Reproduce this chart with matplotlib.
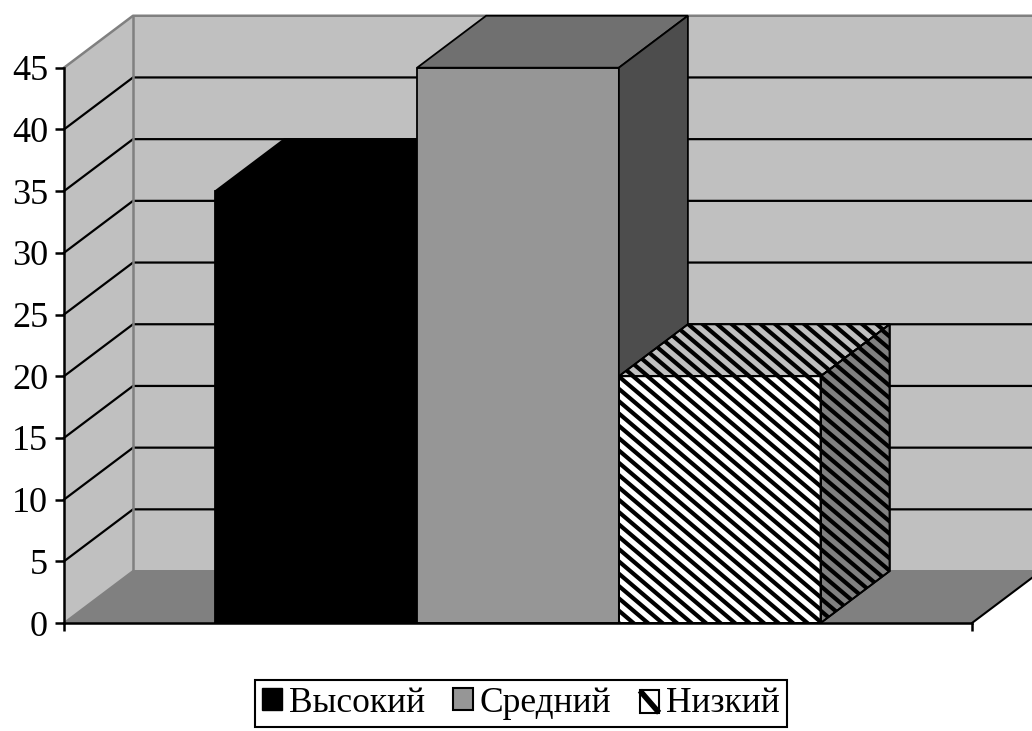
import numpy as np
import matplotlib.pyplot as plt
from matplotlib.patches import Polygon, Patch, Rectangle
from matplotlib.collections import LineCollection
from matplotlib.lines import Line2D
from matplotlib.legend_handler import HandlerBase
from matplotlib.transforms import IdentityTransform

plt.rcParams['font.family'] = ['Liberation Serif', 'DejaVu Serif']

labels = ['Высокий', 'Средний', 'Низкий']
values = [35, 45, 20]
yticks = list(range(0, 50, 5))

# face colours: front, top, side
front_colors = ['black', '#969696', 'white']
top_colors = ['black', '#707070', '#c0c0c0']
side_colors = ['black', '#4d4d4d', '#808080']
hatched = [False, False, True]

W, H, DPI = 1032, 731, 100
fig = plt.figure(figsize=(W / DPI, H / DPI), dpi=DPI)
ax = fig.add_axes([64 / W, 1 - 623 / H, 908 / W, 555.3 / H])
ax.set_xlim(0, 1)
ax.set_ylim(0, 45)
ax.set_facecolor('none')

ymax = 45
dx, dy = 0.076, 4.21   # depth offset of the back wall (data units)
wall = '#c0c0c0'
floor = '#808080'
edge_gray = '#808080'


def poly(pts, fc, z, ec='none', lw=0):
    p = Polygon(pts, closed=True, fc=fc, ec=ec, lw=lw, clip_on=False, zorder=z,
                joinstyle='miter')
    ax.add_patch(p)
    return p


def stripes(patch, z):
    # diagonal black stripes clipped to a face, computed in pixel space
    verts = ax.transData.transform(patch.get_xy())
    x0, y0 = verts.min(axis=0)
    x1, y1 = verts.max(axis=0)
    s, period = 0.85, 14.5
    segs = []
    for c in np.arange(y0 + s * x0 - period * s, y1 + s * x1 + period * s, period * s):
        segs.append([(x0 - 2, c - s * (x0 - 2)), (x1 + 2, c - s * (x1 + 2))])
    lc = LineCollection(segs, colors='black', linewidths=3.0,
                        transform=IdentityTransform(), zorder=z)
    lc.set_clip_path(patch)
    fig.add_artist(lc)


# walls and floor
poly([(0, 0), (1, 0), (1 + dx, dy), (dx, dy)], floor, 0)
poly([(dx, dy), (1 + dx, dy), (1 + dx, ymax + dy), (dx, ymax + dy)], wall, 0)
poly([(0, 0), (dx, dy), (dx, ymax + dy), (0, ymax)], wall, 0)

# gridlines on back and left walls
for v in yticks[1:-1]:
    ax.plot([0, dx, 1 + dx], [v, v + dy, v + dy], color='black', lw=1.6,
            clip_on=False, zorder=1, solid_joinstyle='miter')
ax.plot([0, dx, 1 + dx], [ymax, ymax + dy, ymax + dy], color=edge_gray, lw=1.8,
        clip_on=False, zorder=1)
ax.plot([0, dx, 1 + dx], [0, dy, dy], color=edge_gray, lw=1.5, clip_on=False, zorder=1)
ax.plot([dx, dx], [dy, ymax + dy], color=edge_gray, lw=1.8, clip_on=False, zorder=1)
ax.plot([1, 1 + dx], [0, dy], color='black', lw=1.5, clip_on=False, zorder=1)

# bars: gap width 150% -> bar width 1/4.5
n = len(values)
bw = 1 / (n + 1.5)
gap = 0.75 * bw
for i, v in enumerate(values):
    x0 = gap + i * bw
    x1 = x0 + bw
    z = 3 + i
    f = poly([(x0, 0), (x1, 0), (x1, v), (x0, v)], front_colors[i], z, 'black', 1.3)
    t = poly([(x0, v), (x1, v), (x1 + dx, v + dy), (x0 + dx, v + dy)], top_colors[i], z, 'black', 1.3)
    sd = poly([(x1, 0), (x1 + dx, dy), (x1 + dx, v + dy), (x1, v)], side_colors[i], z, 'black', 1.3)
    if hatched[i]:
        for p in (f, t, sd):
            stripes(p, z + 0.1)
        for p in (f, t, sd):
            poly(p.get_xy(), 'none', z + 0.2, 'black', 1.3)

# axes
for k in ('top', 'right'):
    ax.spines[k].set_visible(False)
for k in ('left', 'bottom'):
    ax.spines[k].set_linewidth(1.8)
    ax.spines[k].set_zorder(10)
ax.set_yticks(yticks)
ax.set_xticks([0, 1])
ax.set_xticklabels([])
ax.tick_params(axis='y', length=6.5, width=1.8, pad=5, labelsize=26)
ax.tick_params(axis='x', length=6, width=1.8)


class StripeHandler(HandlerBase):
    # white square with one thick diagonal stripe, like the hatched bar
    def create_artists(self, legend, orig_handle, xd, yd, w, h, fontsize, trans):
        r = Rectangle((xd, yd), w, h, fc='white', ec='black', lw=1.5, transform=trans)
        ln = Line2D([xd + 0.1 * w, xd + 0.9 * w], [yd + 0.9 * h, yd + 0.1 * h],
                    color='black', lw=4.0, transform=trans)
        return [r, ln]


handles = [Patch(fc='black', ec='black'),
           Patch(fc='#969696', ec='black', lw=1.5),
           Patch(fc='white', ec='black', lw=1.5)]
leg = fig.legend(handles, labels, loc='center', bbox_to_anchor=(0.505, 0.038),
                 bbox_transform=fig.transFigure, ncol=3, fontsize=25.5,
                 handlelength=0.55, handleheight=0.6, handletextpad=0.2,
                 columnspacing=0.8, borderpad=0.2, borderaxespad=0, fancybox=False,
                 edgecolor='black', framealpha=1,
                 handler_map={handles[2]: StripeHandler()})
leg.get_frame().set_linewidth(1.5)

fig.savefig('out.png', dpi=DPI)
